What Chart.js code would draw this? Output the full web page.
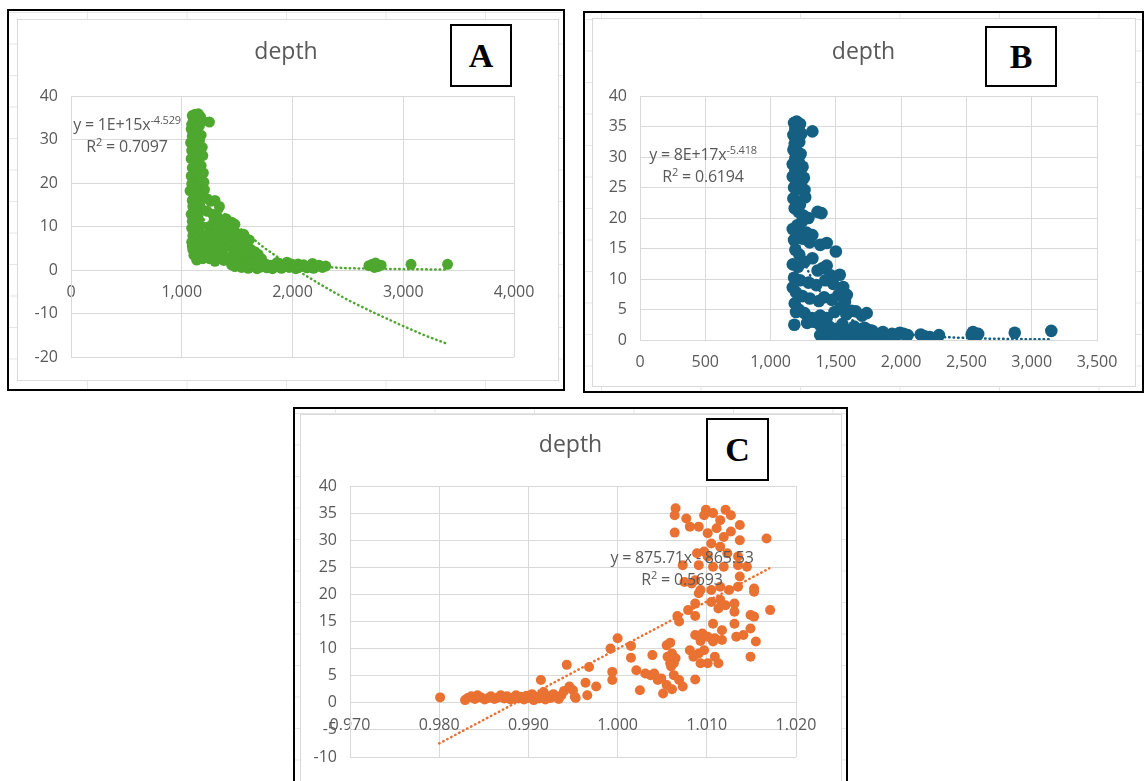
<!DOCTYPE html>
<html>
<head>
<meta charset="utf-8">
<script src="https://cdn.jsdelivr.net/npm/chart.js@4.4.1/dist/chart.umd.min.js"></script>
<style>
    body { margin: 0; width: 1145px; height: 781px; background: #fff; position: relative; overflow: hidden; font-family: "Open Sans", sans-serif; }
    .panel { position: absolute; border: 2px solid #000; background-color: #fff; overflow: hidden;
        background-image: linear-gradient(90deg, #e6e6e6 1px, transparent 1px), linear-gradient(#e6e6e6 1px, transparent 1px);
        background-size: 99.5px 100%, 100% 31.5px; }
    .inner { position: absolute; background: #fff; border: 1px solid #d9d9d9; box-sizing: border-box; }
    .panel canvas { position: absolute; left: 0; top: 0; }
    .eq { position: absolute; width: 240px; color: #595959; font-size: 16px; line-height: 22px; text-align: center; white-space: nowrap; letter-spacing: -0.2px; z-index: 5; }
    .eq sup { font-size: 11px; vertical-align: 6px; line-height: 0; }
    .tag { position: absolute; box-sizing: border-box; border: 2px solid #000; background: #fff; z-index: 5;
        font: bold 34px "Liberation Serif", serif; display: flex; align-items: center; justify-content: center; }
</style>
</head>
<body>

<div class="panel" style="left:7px; top:9px; width:554px; height:378px; background-position:78px 0, 0 1px;">
    <div class="inner" style="left:8px; top:8px; width:542px; height:362px;"></div>
    <canvas id="chartA" width="554" height="378"></canvas>
</div>
<div class="panel" style="left:583px; top:11px; width:557px; height:378px; background-position:16px 0, 0 6px;">
    <div class="inner" style="left:7px; top:5px; width:544px; height:369px;"></div>
    <canvas id="chartB" width="557" height="378"></canvas>
</div>
<div class="panel" style="left:293px; top:407px; width:551px; height:380px; background-position:40px 0, 0 4px;">
    <div class="inner" style="left:5px; top:5px; width:542px; height:380px;"></div>
    <canvas id="chartC" width="551" height="380"></canvas>
</div>

<div class="eq" style="left:7px; top:113px;">y = 1E+15x<sup>-4.529</sup><br>R<sup>2</sup> = 0.7097</div>
<div class="eq" style="left:583px; top:143px;">y = 8E+17x<sup>-5.418</sup><br>R<sup>2</sup> = 0.6194</div>
<div class="eq" style="left:562px; top:546px;">y = 875.71x - 865.53<br>R<sup>2</sup> = 0.5693</div>

<div class="tag" style="left:450px; top:24px; width:62px; height:63px;">A</div>
<div class="tag" style="left:985px; top:26px; width:72px; height:61px;">B</div>
<div class="tag" style="left:706px; top:418px; width:63px; height:63px;">C</div>

<script>
// panel A: depth vs x (green)
const depthA = [
    [1095,35.5],[1120,35.8],[1150,35.9],[1170,35.2],[1105,34.5],[1135,34.8],[1250,34.0],[1090,33.5],[1160,33.2],[1190,34.2],
    [1085,32.4],[1110,32.8],[1140,32.0],[1175,31.0],[1095,30.8],[1125,30.5],[1160,29.8],[1080,29.3],[1105,29.0],[1140,28.5],[1185,28.2],
    [1090,27.5],[1120,27.0],[1150,26.8],[1190,26.3],[1085,25.6],[1110,25.2],[1145,24.6],[1175,24.0],[1095,23.5],[1130,23.0],[1160,22.6],[1195,22.3],
    [1085,21.6],[1115,21.2],[1150,20.8],[1200,20.2],[1090,19.8],[1125,19.5],[1165,19.0],[1205,18.5],[1075,18.2],[1105,17.6],[1140,17.2],[1180,16.8],[1230,16.4],[1095,16.0],
    [1125,15.6],[1160,15.1],[1100,14.6],[1135,14.1],[1190,13.8],[1085,12.8],[1115,12.3],[1150,11.8],[1095,11.2],[1130,10.6],[1170,10.2],
    [1090,9.6],[1120,9.0],[1160,8.6],[1100,7.9],[1140,7.3],[1195,7.0],[1090,6.4],[1125,5.8],[1165,5.2],[1100,4.7],[1145,4.0],[1110,3.4],[1135,2.3],[1190,2.6],[1095,5.5],
    [1260,15.8],[1300,16.0],[1340,14.6],[1230,13.5],[1280,12.8],[1320,12.4],[1400,11.8],[1450,11.0],[1290,11.2],[1350,10.5],[1480,10.5],[1250,10.0],
    [1380,9.6],[1420,9.0],[1500,8.4],[1310,8.8],[1230,8.2],[1360,8.0],[1460,7.6],[1530,7.0],[1270,7.2],[1400,6.8],[1330,6.3],[1500,6.1],[1580,5.6],
    [1250,5.6],[1440,5.4],[1380,5.0],[1290,4.5],[1520,4.6],[1620,4.8],[1660,4.2],[1210,4.2],[1350,3.8],[1470,3.6],[1560,3.4],[1690,3.6],[1310,3.0],
    [1420,2.9],[1250,2.6],[1600,2.8],[1720,2.6],[1380,2.2],[1500,2.2],[1300,2.0],[1640,2.0],[1550,1.6],[1610,6.9],[1560,8.2],[1470,9.3],
    [1450,1.2],[1480,0.8],[1510,1.5],[1540,0.6],[1570,1.1],[1600,0.4],[1620,1.6],[1650,0.9],[1680,0.3],[1700,1.3],[1720,0.7],[1750,1.5],[1770,0.5],
    [1800,1.1],[1820,0.3],[1850,1.4],[1870,0.8],[1900,0.4],[1920,1.2],[1950,1.8],[1970,0.6],[2000,1.0],[2030,0.3],[2050,1.4],[2080,0.8],[2100,1.2],
    [2130,0.5],[2160,1.0],[2180,1.5],[2210,0.7],[2240,1.1],[2270,0.6],[2300,0.9],[1860,1.7],[1760,0.9],[1660,1.4],[1590,0.8],[1940,0.8],[2190,0.4],[1990,1.4],
    [2690,1.0],[2720,1.3],[2750,1.6],[2770,0.8],[2800,1.1],[2740,0.6],[3070,1.3],[3400,1.3]
];
const trendPowerA = [[1080,18.2],[1150,13.7],[1250,9.4],[1350,6.6],[1500,4.1],[1700,2.3],[2000,1.1],[2500,0.4],[3000,0.2],[3380,0.1]];
const trendLogA = [[1080,21.1],[1200,17.6],[1350,13.7],[1544,9.2],[1750,5.0],[2000,0.6],[2250,-3.3],[2500,-6.9],[2750,-10.0],[3000,-12.9],[3200,-15.1],[3380,-16.8]];

// panel B: depth vs x (blue)
const depthB = [
    [1180,35.6],[1200,35.8],[1225,35.4],[1190,34.6],[1215,34.8],[1320,34.2],[1175,33.6],[1205,33.2],[1235,33.8],[1185,32.2],[1220,32.5],[1175,31.2],
    [1200,31.0],[1230,30.5],[1190,29.8],[1215,29.2],[1170,28.8],[1245,28.4],[1190,27.8],[1220,27.2],[1170,26.8],[1255,26.6],[1195,26.0],[1235,25.8],
    [1180,25.0],[1210,24.8],[1260,24.6],[1175,23.2],[1200,22.6],[1265,23.4],[1225,22.2],[1185,21.6],[1215,21.0],[1250,20.4],[1360,21.0],[1390,20.8],
    [1290,20.0],[1240,19.4],[1205,18.8],[1170,18.2],[1225,18.0],[1275,17.6],[1320,17.2],[1180,16.4],[1250,16.6],[1300,16.0],[1380,15.6],[1190,14.8],
    [1430,15.9],[1220,14.0],[1500,14.5],
    [1170,12.4],[1210,12.0],[1260,12.8],[1320,13.4],[1360,11.4],[1400,11.8],[1430,12.2],[1460,10.6],[1180,10.2],[1225,9.8],[1290,9.4],[1350,9.0],
    [1420,9.8],[1480,9.2],[1530,10.7],
    [1170,8.6],[1195,7.8],[1245,7.2],[1300,6.8],[1370,6.4],[1410,7.0],[1470,6.6],[1520,7.4],[1556,8.7],[1584,7.4],[1570,6.3],[1185,6.0],[1215,5.0],
    [1195,4.6],[1260,4.4],[1320,3.6],[1380,4.0],[1430,3.6],[1490,4.6],[1540,5.4],[1580,4.2],[1620,4.8],[1653,4.7],[1700,4.0],[1736,4.4],
    [1182,2.5],[1280,2.8],[1330,3.0],[1380,2.4],[1450,2.2],[1500,1.8],[1550,2.6],[1600,1.6],[1640,2.2],[1680,1.4],[1720,2.0],[1760,1.6],
    [1380,0.8],[1410,0.4],[1440,1.0],[1470,0.6],[1500,1.2],[1520,0.3],[1550,0.9],[1580,0.5],[1610,1.1],[1640,0.4],[1660,0.8],[1690,1.2],[1720,0.5],
    [1750,0.9],[1780,1.5],[1800,0.4],[1830,0.9],[1860,1.3],[1880,0.6],[1910,0.3],[1930,1.0],[1960,0.7],[1990,1.2],[2020,1.0],[2050,0.8],[2150,0.9],
    [2180,0.6],[2220,0.5],[2290,0.8],[2540,0.9],[2550,1.3],[2570,0.6],[2590,1.0],[2870,1.2],[3150,1.5]
];
const trendPowerB = [[1170,19.0],[1250,13.2],[1300,10.7],[1400,7.2],[1500,5.0],[1650,2.9],[1800,1.8],[2000,1.0],[2300,0.5],[2600,0.25],[2900,0.15],[3150,0.1]];

// panel C: depth vs x (orange)
const depthC = [
    [0.9801,1.0],[0.9829,0.5],[0.9832,0.9],[0.9836,1.2],[0.9840,0.7],[0.9843,1.4],[0.9847,1.0],[0.9851,0.6],[0.9855,0.9],[0.9858,1.2],[0.9862,0.7],
    [0.9866,1.0],[0.9869,1.4],[0.9873,0.8],[0.9876,1.2],[0.9880,0.6],[0.9883,1.0],[0.9886,1.4],[0.9889,0.8],[0.9892,1.1],[0.9895,0.6],[0.9898,1.3],
    [0.9901,0.9],[0.9904,1.6],[0.9906,0.5],[0.9909,1.1],[0.9912,0.8],[0.9915,1.5],[0.9917,2.0],[0.9919,0.6],[0.9922,1.2],[0.9925,0.9],[0.9928,1.6],
    [0.9931,1.1],[0.9934,0.7],[0.9937,1.4],[0.9940,2.2],[0.9943,7.0],[0.9914,4.2],[0.9946,3.0],[0.9950,2.3],[0.9952,1.1],[0.9953,0.9],
    [0.9964,3.7],[0.9966,1.4],[0.9968,6.6],[0.9976,3.0],[0.9994,4.2],[0.9994,5.7],[0.9992,10.0],[1.0000,11.9],[1.0015,10.5],[1.0015,8.3],[1.0021,6.0],
    [1.0025,2.3],[1.0031,5.4],[1.0037,5.1],[1.0039,8.8],[1.0045,4.2],[1.0051,1.7],[1.0055,3.3],[1.0061,2.5],[1.0069,4.2],[1.0073,3.0],[1.0055,10.6],
    [1.0059,11.1],[1.0061,9.1],[1.0063,7.3],[1.0065,8.2],[1.0059,7.3],[1.0041,5.4],[1.0049,4.5],[1.0056,8.5],[1.0060,6.7],[1.0063,5.1],
    [1.0065,35.9],[1.0064,34.6],[1.0077,34.0],[1.0064,31.4],[1.0081,32.5],[1.0097,34.6],[1.0099,35.6],[1.0107,35.0],[1.0121,35.6],[1.0127,34.6],
    [1.0137,32.8],[1.0115,33.7],[1.0111,32.2],[1.0101,31.3],[1.0091,32.5],[1.0119,30.6],[1.0127,31.6],[1.0137,30.0],[1.0115,28.8],[1.0105,29.4],
    [1.0123,27.6],[1.0089,27.6],[1.0097,27.9],[1.0073,25.4],[1.0091,25.4],[1.0101,27.0],[1.0107,25.1],[1.0119,25.1],[1.0135,25.4],[1.0145,25.1],
    [1.0135,27.0],[1.0075,22.3],[1.0083,22.0],[1.0087,22.6],[1.0093,20.8],[1.0091,20.2],[1.0105,20.8],[1.0115,21.4],[1.0125,20.8],[1.0135,21.4],
    [1.0137,23.3],[1.0153,21.1],[1.0153,20.5],[1.0167,30.3],[1.0105,18.6],[1.0115,19.0],[1.0113,17.4],[1.0121,18.0],[1.0131,18.3],[1.0131,16.8],
    [1.0087,18.3],[1.0079,17.1],[1.0087,16.0],[1.0067,16.0],[1.0069,15.0],[1.0149,16.2],[1.0153,15.9],[1.0171,17.1],[1.0131,14.6],[1.0107,14.6],
    [1.0117,13.4],[1.0087,12.5],[1.0095,12.8],[1.0101,12.2],[1.0109,11.9],[1.0093,11.4],[1.0107,11.3],[1.0117,11.6],[1.0133,12.2],[1.0141,12.5],
    [1.0155,11.3],[1.0149,13.7],[1.0081,9.7],[1.0091,9.1],[1.0097,9.7],[1.0085,8.5],[1.0101,7.3],[1.0093,7.3],[1.0109,8.5],[1.0113,7.3],
    [1.0149,8.5],[1.0087,4.3]
];
const trendLinearC = [[0.980,-7.5],[1.017,24.8]];

const textGrey = '#595959';
const gridGrey = '#d9d9d9';

function toPoints(pairs) {
    return pairs.map(p => ({ x: p[0], y: p[1] }));
}

function makeChart(id, opts) {
    const ctx = document.getElementById(id).getContext('2d');
    const datasets = opts.trends.map(t => ({
        data: toPoints(t),
        showLine: true,
        pointRadius: 0,
        borderColor: opts.color,
        borderWidth: 2.5,
        borderDash: [0.5, 4],
        borderCapStyle: 'round',
        order: 0,
    }));
    datasets.push({
        data: toPoints(opts.points),
        pointRadius: opts.radius,
        pointBackgroundColor: opts.color,
        pointBorderWidth: 0,
        order: 1,
    });

    return new Chart(ctx, {
        type: 'scatter',
        data: { datasets: datasets },
        options: {
            responsive: false,
            animation: false,
            layout: { padding: { left: 0, top: 0, right: 0, bottom: opts.padBottom } },
            plugins: {
                legend: { display: false },
                tooltip: { enabled: false },
                title: {
                    display: true,
                    text: 'depth',
                    color: textGrey,
                    font: { family: 'Open Sans', size: 23, weight: 'normal' },
                    padding: { top: opts.titleTop, bottom: opts.titleBottom },
                },
            },
            scales: {
                x: {
                    type: 'linear',
                    min: opts.xMin,
                    max: opts.xMax,
                    position: opts.xPos,
                    afterFit: s => { s.height = opts.xHeight; },
                    grid: { color: gridGrey, drawTicks: false },
                    border: { color: gridGrey },
                    ticks: {
                        stepSize: opts.xStep,
                        padding: 13,
                        maxRotation: 0,
                        autoSkip: false,
                        color: textGrey,
                        font: { family: 'Open Sans', size: 16 },
                        callback: opts.xFormat,
                    },
                },
                y: {
                    min: opts.yMin,
                    max: opts.yMax,
                    afterFit: s => { s.width = opts.yWidth; },
                    grid: { color: gridGrey, drawTicks: false },
                    border: { color: gridGrey },
                    ticks: {
                        stepSize: opts.yStep,
                        padding: 13,
                        color: textGrey,
                        font: { family: 'Open Sans', size: 16 },
                    },
                },
                // empty right axis only reserves the margin, so the title stays centred on the canvas
                yRight: {
                    position: 'right',
                    afterFit: s => { s.width = opts.padRight; },
                    grid: { display: false },
                    border: { display: false },
                    ticks: { display: false },
                },
            },
        },
    });
}

const commaFormat = v => v.toLocaleString('en-US');

makeChart('chartA', {
    points: depthA, trends: [trendPowerA, trendLogA], color: '#4EA72E', radius: 5.5,
    xMin: 0, xMax: 4000, xStep: 1000, xPos: { y: 0 }, xFormat: commaFormat, xHeight: 0,
    yMin: -20, yMax: 40, yStep: 10, yWidth: 62,
    padRight: 49, padBottom: 32, titleTop: 27.2, titleBottom: 30.2,
});

makeChart('chartB', {
    points: depthB, trends: [trendPowerB], color: '#156082', radius: 6.3,
    xMin: 0, xMax: 3500, xStep: 500, xPos: 'bottom', xFormat: commaFormat, xHeight: 51,
    yMin: 0, yMax: 40, yStep: 5, yWidth: 55,
    padRight: 45, padBottom: 0, titleTop: 25.2, titleBottom: 30.2,
});

makeChart('chartC', {
    points: depthC, trends: [trendLinearC], color: '#E97132', radius: 5,
    xMin: 0.97, xMax: 1.02, xStep: 0.01, xPos: { y: 0 }, xFormat: v => v.toFixed(3), xHeight: 0,
    yMin: -10, yMax: 40, yStep: 5, yWidth: 55,
    padRight: 50, padBottom: 32, titleTop: 22.2, titleBottom: 27.2,
});
</script>
</body>
</html>
